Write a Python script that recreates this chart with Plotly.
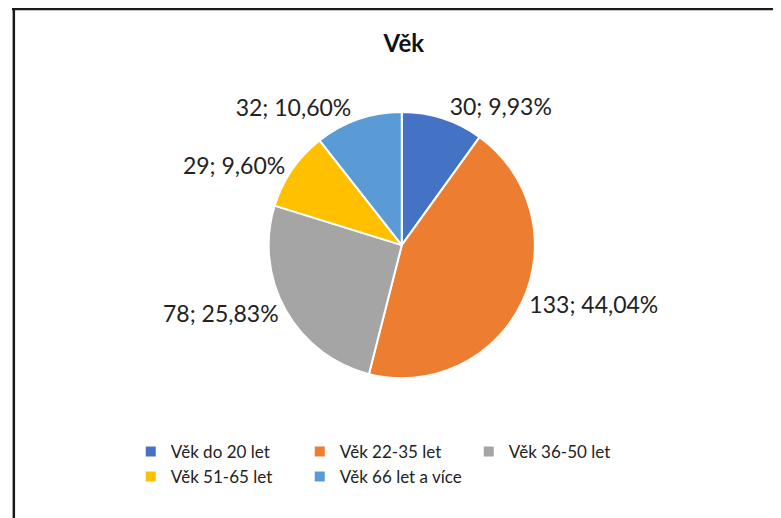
import plotly.graph_objects as go

categories = ["Věk do 20 let", "Věk 22-35 let", "Věk 36-50 let", "Věk 51-65 let", "Věk 66 let a více"]
counts = [30, 133, 78, 29, 32]
colors = ["#4472C4", "#ED7D31", "#A5A5A5", "#FFC000", "#5B9BD5"]
title_text = "Věk"

FONT = "Lato, Carlito, 'Open Sans', sans-serif"

fig = go.Figure(go.Pie(
    labels=categories,
    values=counts,
    sort=False,
    direction="clockwise",
    rotation=0,
    marker=dict(colors=colors, line=dict(color="white", width=2)),
    texttemplate="%{value}; %{percent:.2%}",
    textposition="outside",
    textfont=dict(family=FONT, size=23, color="#222222"),
    domain=dict(x=[0.41, 0.87], y=[0.274, 0.796]),
    hole=0,
))

fig.update_layout(
    width=773, height=510,
    separators=", ",
    margin=dict(l=4, r=160, t=0, b=0, autoexpand=False),
    paper_bgcolor="white",
    plot_bgcolor="white",
    font=dict(family=FONT, color="#222222"),
    title=dict(text="<b>" + title_text + "</b>", x=0.512, xanchor="center",
               y=0.931, yanchor="middle", yref="container",
               font=dict(family=FONT, size=24, color="#111111")),
    legend=dict(orientation="h", x=0.195, xanchor="left", y=0.165, yanchor="top",
                font=dict(family=FONT, size=17, color="#222222"),
                entrywidth=124, entrywidthmode="pixels", itemwidth=30,
                traceorder="normal"),
    shapes=[
        dict(type="line", xref="paper", yref="paper", x0=0.003, x1=0.003, y0=-0.05, y1=1,
             line=dict(color="#1a1a1a", width=2.5)),
        dict(type="line", xref="paper", yref="paper", x0=0, x1=1.3, y0=0.998, y1=0.998,
             line=dict(color="#1a1a1a", width=2.5)),
    ],
)

fig.write_html("out.html")
